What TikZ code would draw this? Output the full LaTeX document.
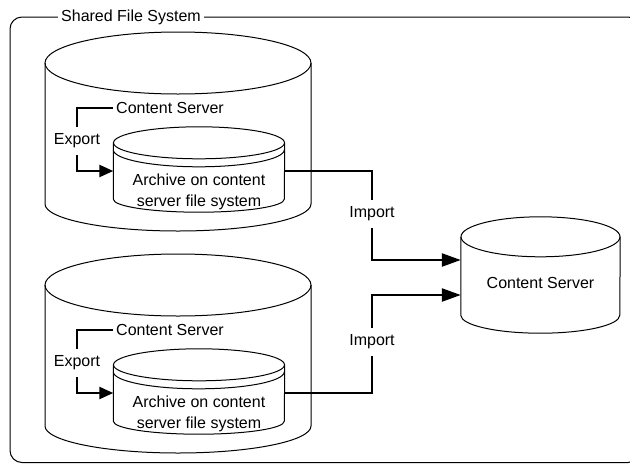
\documentclass[tikz,border=0pt]{standalone}
\usepackage{fontspec}
\setmainfont{Liberation Sans}
\usetikzlibrary{arrows.meta}

\begin{document}
\begin{tikzpicture}[
    x=1pt, y=-1pt,
    lbl/.style={font=\fontsize{16}{21}\selectfont, inner sep=2pt},
    tag/.style={lbl, inner xsep=1pt, inner ysep=6.5pt},
    body/.style={inner sep=0pt},
    disk/.style={line width=1pt},
    flow/.style={line width=2.4pt},
    expto/.style={flow, -{Triangle[length=14pt,width=12pt]}},
    impto/.style={flow, -{Triangle[length=19pt,width=13pt]}}
  ]
    \useasboundingbox (0,0) rectangle (630,464);

    % shared file system frame
    \draw[disk, rounded corners=12pt] (10,17) rectangle (640,462.5);
    \node[lbl, fill=white, inner xsep=3pt] (sfs) at (131,17) {Shared File System};

    \foreach \i/\dy in {1/0, 2/222} {
      \draw[disk] (45,63+\dy) -- (45,204+\dy)
        arc[start angle=180, end angle=360, x radius=133pt, y radius=27pt] -- (311,63+\dy);
      \draw[disk] (178,63+\dy) ellipse[x radius=133pt, y radius=31pt];

      \node[body, minimum width=171pt, minimum height=56pt] (arch\i) at (199,171+\dy) {};
      \draw[disk] (arch\i.north west) -- (arch\i.south west)
        arc[start angle=180, end angle=360, x radius=85.5pt, y radius=13pt] -- (arch\i.north east);
      \draw[disk] (arch\i.north) ellipse[x radius=85.5pt, y radius=16pt];
      \draw[disk] ([yshift=-7pt]arch\i.north west)
        arc[start angle=180, end angle=360, x radius=85.5pt, y radius=17pt];
      \node[lbl, align=center] (archtxt\i) at ([yshift=-21pt]arch\i.center)
        {Archive on content\\server file system};

      \node[lbl, anchor=west, inner xsep=3pt] (cs\i) at (113,108+\dy) {Content Server};
      \node[tag] (exp\i) at (77,141+\dy) {Export};
      \draw[flow] (cs\i.west) -| (exp\i.north);
      \draw[expto] (exp\i.south) |- (arch\i.west);
    }

    % target content server
    \node[body, minimum width=159pt, minimum height=78pt] (srv) at (540.5,276) {};
    \draw[disk] (srv.north west) -- (srv.south west)
      arc[start angle=180, end angle=360, x radius=79.5pt, y radius=18pt] -- (srv.north east);
    \draw[disk] (srv.north) ellipse[x radius=79.5pt, y radius=20pt];
    \node[lbl] (srvtxt) at ([yshift=-7pt]srv.center) {Content Server};

    \node[tag] (imp1) at (372,214) {Import};
    \node[tag] (imp2) at (372,342) {Import};
    \draw[flow] (arch1.east) -| (imp1.north);
    \draw[impto] (imp1.south) |- ([yshift=16pt]srv.west);
    \draw[flow] (arch2.east) -| (imp2.south);
    \draw[impto] (imp2.north) |- ([yshift=-19pt]srv.west);
  \end{tikzpicture}
\end{document}
